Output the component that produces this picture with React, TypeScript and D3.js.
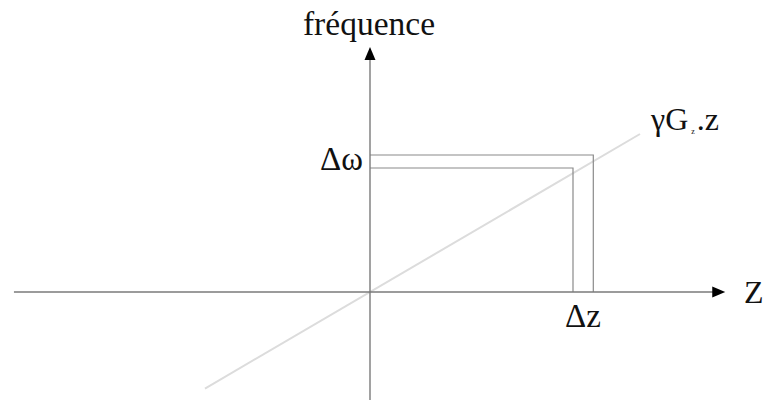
import React from "react";
import * as d3 from "d3";

// Axis extents in normalised units (Δz = 1, Δω = 1)
const zExtent = [-1.754, 1.75];
const freqExtent = [-0.88, 1.976];

// Gradient line ω = γG_z · z
const gradientSlope = 0.958;
const gradientZ = [-0.813, 1.33];

// Selected slice: inner and outer bounds
const sliceZ = [1.0, 1.1];
const sliceW = [1.0, 1.105];

const WIDTH = 765;
const HEIGHT = 400;
const FONT = "'Liberation Serif', 'DejaVu Serif', serif";

export default function App() {
  const x = d3.scaleLinear().domain([0, 1]).range([370, 573]);
  const y = d3.scaleLinear().domain([0, 1]).range([292, 168]);

  const line = d3
    .line<number>()
    .x((z) => x(z))
    .y((z) => y(gradientSlope * z));

  const x0 = x(0);
  const y0 = y(0);
  const xEnd = x(zExtent[1]);
  const yTop = y(freqExtent[1]);

  const bracket = (z: number, w: number) =>
    d3.line()([
      [x0, y(w)],
      [x(z), y(w)],
      [x(z), y0],
    ]) as string;

  return (
    <svg
      width={WIDTH}
      height={HEIGHT}
      style={{ position: "absolute", left: 0, top: 0, background: "#fff" }}
    >
      {/* gradient line */}
      <path
        d={line(gradientZ) as string}
        fill="none"
        stroke="#dcdcdc"
        strokeWidth={2}
      />

      {/* slice bounds */}
      <path d={bracket(sliceZ[1], sliceW[1])} fill="none" stroke="#8a8a8a" strokeWidth={1.2} />
      <path d={bracket(sliceZ[0], sliceW[0])} fill="none" stroke="#8a8a8a" strokeWidth={1.2} />

      {/* axes */}
      <line x1={x(zExtent[0])} y1={y0} x2={xEnd - 12} y2={y0} stroke="#7a7a7a" strokeWidth={1.4} />
      <path d={`M${xEnd},${y0} L${xEnd - 13},${y0 - 5.5} L${xEnd - 13},${y0 + 5.5} Z`} fill="#000" />
      <line x1={x0} y1={y(freqExtent[0])} x2={x0} y2={yTop + 12} stroke="#7a7a7a" strokeWidth={1.4} />
      <path d={`M${x0},${yTop} L${x0 - 5.5},${yTop + 13} L${x0 + 5.5},${yTop + 13} Z`} fill="#000" />

      {/* labels */}
      <g fontFamily={FONT} fill="#111">
        <text x={369} y={35} fontSize={33.5} textAnchor="middle">
          fréquence
        </text>
        <text x={744} y={303} fontSize={32}>
          Z
        </text>
        <text x={363} y={170} fontSize={33} textAnchor="end">
          Δω
        </text>
        <text x={583} y={327} fontSize={33} textAnchor="middle">
          Δz
        </text>
        <text x={651} y={130} fontSize={32}>
          γG
          <tspan fontSize={8} dx={3} dy={4}>z</tspan>
          <tspan fontSize={32} dx={2} dy={-4}>.z</tspan>
        </text>
      </g>
    </svg>
  );
}
